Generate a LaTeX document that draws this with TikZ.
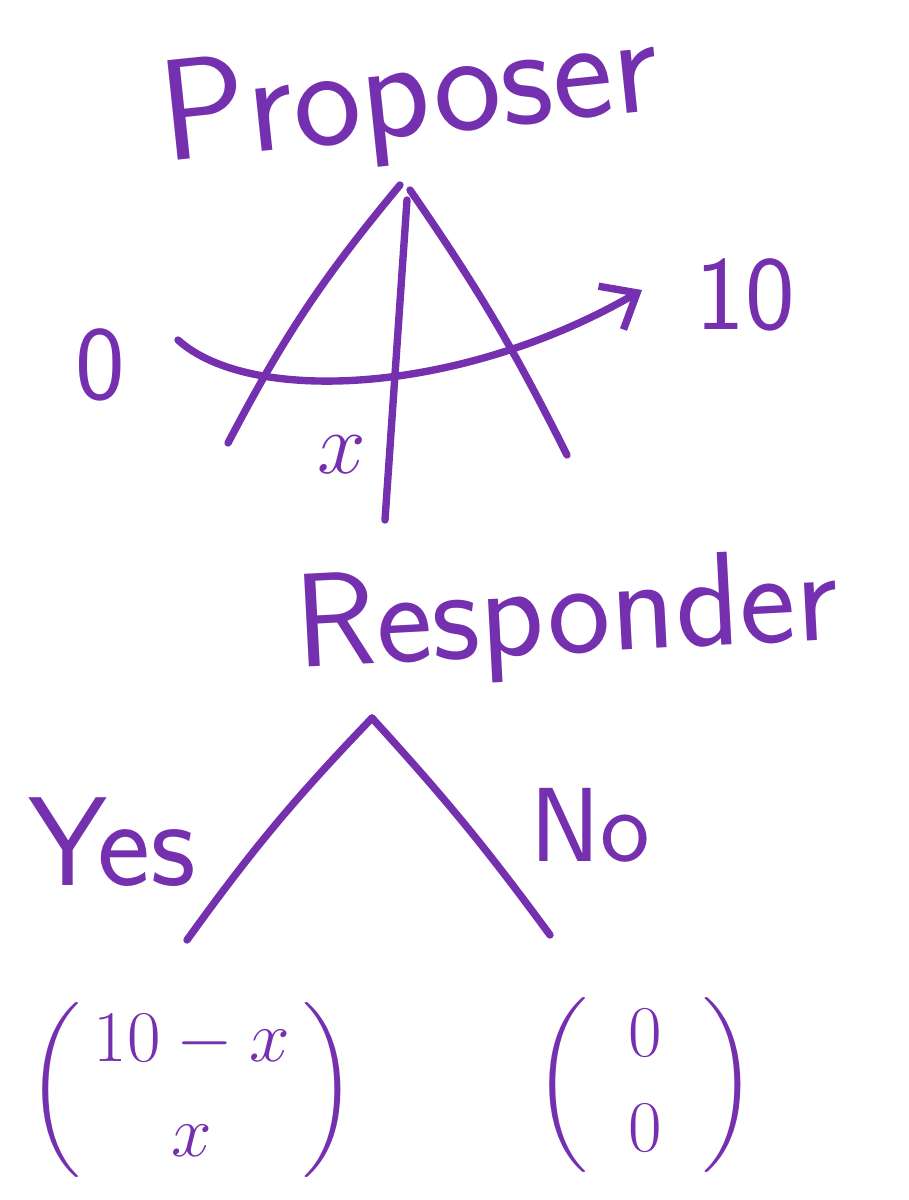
\documentclass[tikz,border=0pt]{standalone}
\usepackage{amsmath}
\usepackage{tikz}
\usetikzlibrary{arrows.meta}
\definecolor{pen}{HTML}{7530B0}

\begin{document}
\begin{tikzpicture}[
    pencil/.style={pen, line width=2.1pt, line cap=round, line join=round},
    words/.style={pen, font=\sffamily\fontsize{40}{48}\selectfont},
    marks/.style={pen, font=\sffamily\fontsize{30}{36}\selectfont}]
    \useasboundingbox (0,0) rectangle (9.08,-12);

    % proposer's move: a fan of offers
    \node[words,rotate=6,inner sep=0pt,font=\sffamily\fontsize{41}{48}\selectfont] (proposer) at (4.1,-1.0) {Proposer};
    \coordinate (ptop) at (4.0,-1.85);
    \coordinate (pleft) at (2.28,-4.43);
    \coordinate (pright) at (5.67,-4.55);
    \coordinate (pmidtop) at (4.07,-2.0);
    \coordinate (pmidbot) at (3.85,-5.2);
    \draw[pencil] (ptop) to[bend right=6] (pleft);
    \draw[pencil] (4.1,-1.9) to[bend left=4] (pright);
    \draw[pencil] (pmidtop) -- (pmidbot);

    \node[marks] (zero) at (1.0,-3.65) {0};
    \node[marks] (ten) at (7.45,-2.95) {10};
    \coordinate (cstart) at (1.78,-3.4);
    \coordinate (cend) at (6.42,-2.9);
    \draw[pencil,-{Straight Barb[length=3mm,width=5mm]}] (cstart) .. controls (2.5,-4.05) and (4.6,-3.95) .. (cend);
    \node[marks] (offer) at (3.42,-4.55) {$x$};

    % responder's move
    \node[words,rotate=3,font=\sffamily\fontsize{38}{44}\selectfont] (responder) at (5.67,-6.2) {Responder};
    \coordinate (rtop) at (3.72,-7.18);
    \coordinate (rleft) at (1.87,-9.4);
    \coordinate (rright) at (5.5,-9.35);
    \draw[pencil] (rtop) to[bend right=4] (rleft);
    \draw[pencil] (rtop) to[bend left=3] (rright);
    \node[pen,font=\sffamily\fontsize{36}{42}\selectfont] (yes) at (1.12,-8.42) {Yes};
    \node[pen,font=\sffamily\fontsize{30}{36}\selectfont] (no) at (5.9,-8.25) {No};

    % payoffs
    \node[pen,font=\fontsize{22}{27}\selectfont] (acc) at (1.92,-10.9)
        {$\left(\,\begin{matrix} 10-x \\ x \end{matrix}\,\right)$};
    \node[pen,font=\fontsize{22}{27}\selectfont] (rej) at (6.45,-10.85)
        {$\left(\;\;\begin{matrix} 0 \\ 0 \end{matrix}\;\;\right)$};
\end{tikzpicture}
\end{document}
